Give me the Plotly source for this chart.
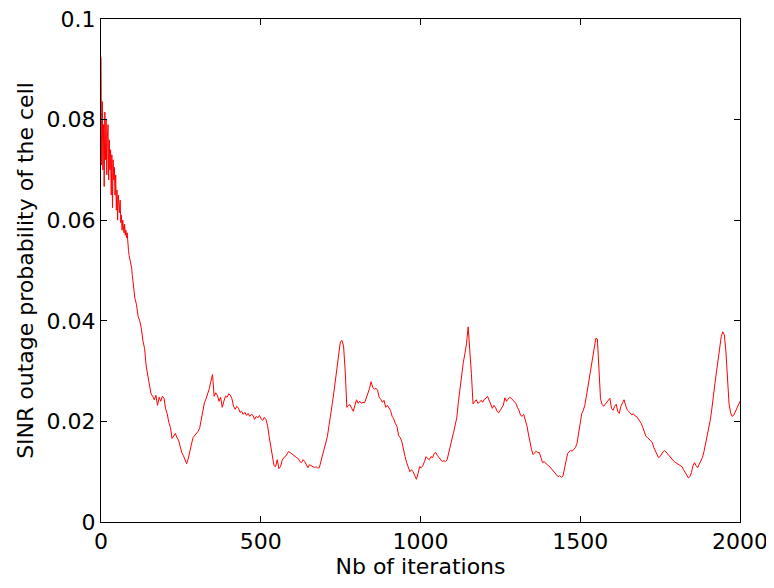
import numpy as np
import plotly.graph_objects as go

# Iteration sample positions: dense in the noisy start, then regular sampling
iters_start = list(range(0, 101, 2))                       # 51 samples
iters_mid = list(np.round(np.linspace(106, 1215, 220), 1))  # 220 samples
iters_end = list(np.round(np.linspace(1220, 2000, 160), 1)) # 160 samples
iterations = iters_start + iters_mid + iters_end

outage_start = [
    0.0925, 0.0710, 0.0836, 0.0700, 0.0790, 0.0667, 0.0815, 0.0720, 0.0800, 0.0690,
    0.0765, 0.0790, 0.0680, 0.0760, 0.0700, 0.0740, 0.0650, 0.0730, 0.0625, 0.0720,
    0.0680, 0.0705, 0.0650, 0.0690, 0.0620, 0.0660, 0.0600, 0.0650, 0.0635, 0.0615,
    0.0640, 0.0595, 0.0610, 0.0580, 0.0600, 0.0585, 0.0575, 0.0592, 0.0570, 0.0580,
    0.0565, 0.0575, 0.0545, 0.0540, 0.0530, 0.0525, 0.0520, 0.0510, 0.0505, 0.0490,
    0.0478,
]

outage_mid = [
    0.0445, 0.0432, 0.0409, 0.0400, 0.0385, 0.0360, 0.0345, 0.0310, 0.0290, 0.0268,
    0.0255, 0.0250, 0.0243, 0.0252, 0.0232, 0.0248, 0.0240, 0.0250, 0.0246, 0.0225,
    0.0215, 0.0198, 0.0188, 0.0166, 0.0172, 0.0176, 0.0168, 0.0163, 0.0150, 0.0138,
    0.0132, 0.0122, 0.0116, 0.0126, 0.0144, 0.0155, 0.0168, 0.0172, 0.0175, 0.0180,
    0.0186, 0.0205, 0.0222, 0.0237, 0.0245, 0.0255, 0.0265, 0.0280, 0.0293, 0.0250,
    0.0257, 0.0252, 0.0240, 0.0248, 0.0228, 0.0240, 0.0250, 0.0248, 0.0255, 0.0252,
    0.0245, 0.0230, 0.0224, 0.0230, 0.0226, 0.0218, 0.0220, 0.0214, 0.0218, 0.0212,
    0.0216, 0.0210, 0.0214, 0.0212, 0.0204, 0.0210, 0.0207, 0.0212, 0.0205, 0.0202,
    0.0208, 0.0204, 0.0192, 0.0170, 0.0150, 0.0132, 0.0112, 0.0110, 0.0124, 0.0106,
    0.0110, 0.0122, 0.0128, 0.0130, 0.0136, 0.0140, 0.0138, 0.0135, 0.0134, 0.0130,
    0.0128, 0.0126, 0.0120, 0.0118, 0.0124, 0.0120, 0.0112, 0.0108, 0.0114, 0.0112,
    0.0110, 0.0108, 0.0110, 0.0107, 0.0108, 0.0120, 0.0134, 0.0145, 0.0155, 0.0170,
    0.0192, 0.0210, 0.0235, 0.0258, 0.0285, 0.0310, 0.0335, 0.0358, 0.0361, 0.0350,
    0.0300, 0.0228, 0.0232, 0.0233, 0.0226, 0.0220, 0.0232, 0.0243, 0.0236, 0.0240,
    0.0236, 0.0238, 0.0237, 0.0245, 0.0253, 0.0265, 0.0279, 0.0268, 0.0264, 0.0266,
    0.0262, 0.0248, 0.0244, 0.0238, 0.0242, 0.0228, 0.0232, 0.0226, 0.0222, 0.0210,
    0.0205, 0.0196, 0.0190, 0.0172, 0.0168, 0.0160, 0.0142, 0.0130, 0.0118, 0.0108,
    0.0100, 0.0104, 0.0100, 0.0092, 0.0085, 0.0096, 0.0110, 0.0108, 0.0112, 0.0120,
    0.0130, 0.0126, 0.0124, 0.0130, 0.0128, 0.0136, 0.0138, 0.0132, 0.0128, 0.0122,
    0.0120, 0.0122, 0.0120, 0.0124, 0.0140, 0.0152, 0.0165, 0.0178, 0.0192, 0.0208,
    0.0240, 0.0269, 0.0295, 0.0317, 0.0335, 0.0355, 0.0388, 0.0350, 0.0295, 0.0235,
    0.0240, 0.0243, 0.0236, 0.0238, 0.0242, 0.0238, 0.0244, 0.0246, 0.0250, 0.0243,
]

outage_end = [
    0.0235, 0.0226, 0.0232, 0.0228, 0.0220, 0.0217, 0.0222, 0.0228, 0.0232, 0.0247,
    0.0240, 0.0244, 0.0248, 0.0246, 0.0242, 0.0240, 0.0236, 0.0228, 0.0222, 0.0212,
    0.0210, 0.0214, 0.0205, 0.0192, 0.0175, 0.0158, 0.0144, 0.0134, 0.0138, 0.0141,
    0.0138, 0.0138, 0.0128, 0.0118, 0.0120, 0.0116, 0.0114, 0.0112, 0.0108, 0.0106,
    0.0100, 0.0097, 0.0092, 0.0090, 0.0092, 0.0089, 0.0091, 0.0105, 0.0124, 0.0136,
    0.0140, 0.0142, 0.0141, 0.0144, 0.0148, 0.0156, 0.0175, 0.0195, 0.0215, 0.0222,
    0.0232, 0.0250, 0.0269, 0.0286, 0.0303, 0.0325, 0.0345, 0.0365, 0.0364, 0.0310,
    0.0245, 0.0234, 0.0230, 0.0234, 0.0238, 0.0240, 0.0246, 0.0226, 0.0222, 0.0230,
    0.0234, 0.0220, 0.0216, 0.0230, 0.0238, 0.0243, 0.0232, 0.0223, 0.0220, 0.0216,
    0.0213, 0.0215, 0.0211, 0.0210, 0.0206, 0.0200, 0.0196, 0.0188, 0.0176, 0.0170,
    0.0168, 0.0165, 0.0163, 0.0158, 0.0148, 0.0140, 0.0134, 0.0128, 0.0130, 0.0136,
    0.0140, 0.0142, 0.0138, 0.0135, 0.0130, 0.0128, 0.0124, 0.0120, 0.0118, 0.0116,
    0.0114, 0.0113, 0.0110, 0.0104, 0.0099, 0.0094, 0.0088, 0.0090, 0.0098, 0.0112,
    0.0118, 0.0112, 0.0108, 0.0115, 0.0122, 0.0128, 0.0140, 0.0155, 0.0172, 0.0188,
    0.0202, 0.0224, 0.0245, 0.0275, 0.0298, 0.0322, 0.0345, 0.0368, 0.0378, 0.0372,
    0.0340, 0.0290, 0.0235, 0.0217, 0.0210, 0.0212, 0.0220, 0.0227, 0.0232, 0.0240,
]

outage = outage_start + outage_mid + outage_end

x_ticks = [0, 500, 1000, 1500, 2000]
x_tick_labels = ["0", "500", "1000", "1500", "2000"]
y_ticks = [0, 0.02, 0.04, 0.06, 0.08, 0.1]
y_tick_labels = ["0", "0.02", "0.04", "0.06", "0.08", "0.1"]

font_family = "DejaVu Sans, Liberation Sans, Arial, sans-serif"

fig = go.Figure()
fig.add_trace(go.Scatter(
    x=iterations, y=outage, mode="lines",
    line=dict(color="#ff0000", width=1),
    showlegend=False,
))

axis_common = dict(
    showline=True, linecolor="black", linewidth=1, mirror="ticks",
    ticks="inside", ticklen=6, tickcolor="black", tickwidth=1,
    showgrid=False, zeroline=False, automargin=False,
    ticklabeloverflow="allow",
    tickfont=dict(family=font_family, size=22, color="black"),
)

# The page body has an 8px default margin, so the figure is sized to fit.
fig.update_layout(
    width=766, height=580,
    margin=dict(l=93, r=34, t=11, b=66),
    paper_bgcolor="white", plot_bgcolor="white",
    font=dict(family=font_family, size=22, color="black"),
    xaxis=dict(
        range=[0, 2000], tickvals=x_ticks, ticktext=x_tick_labels,
        title=dict(text="Nb of iterations", font=dict(size=22), standoff=0),
        **axis_common,
    ),
    yaxis=dict(
        range=[0, 0.1], tickvals=y_ticks, ticktext=y_tick_labels,
        title=dict(text="SINR outage probability of the cell", font=dict(size=22), standoff=6),
        **axis_common,
    ),
)

fig.write_html("out.html")
